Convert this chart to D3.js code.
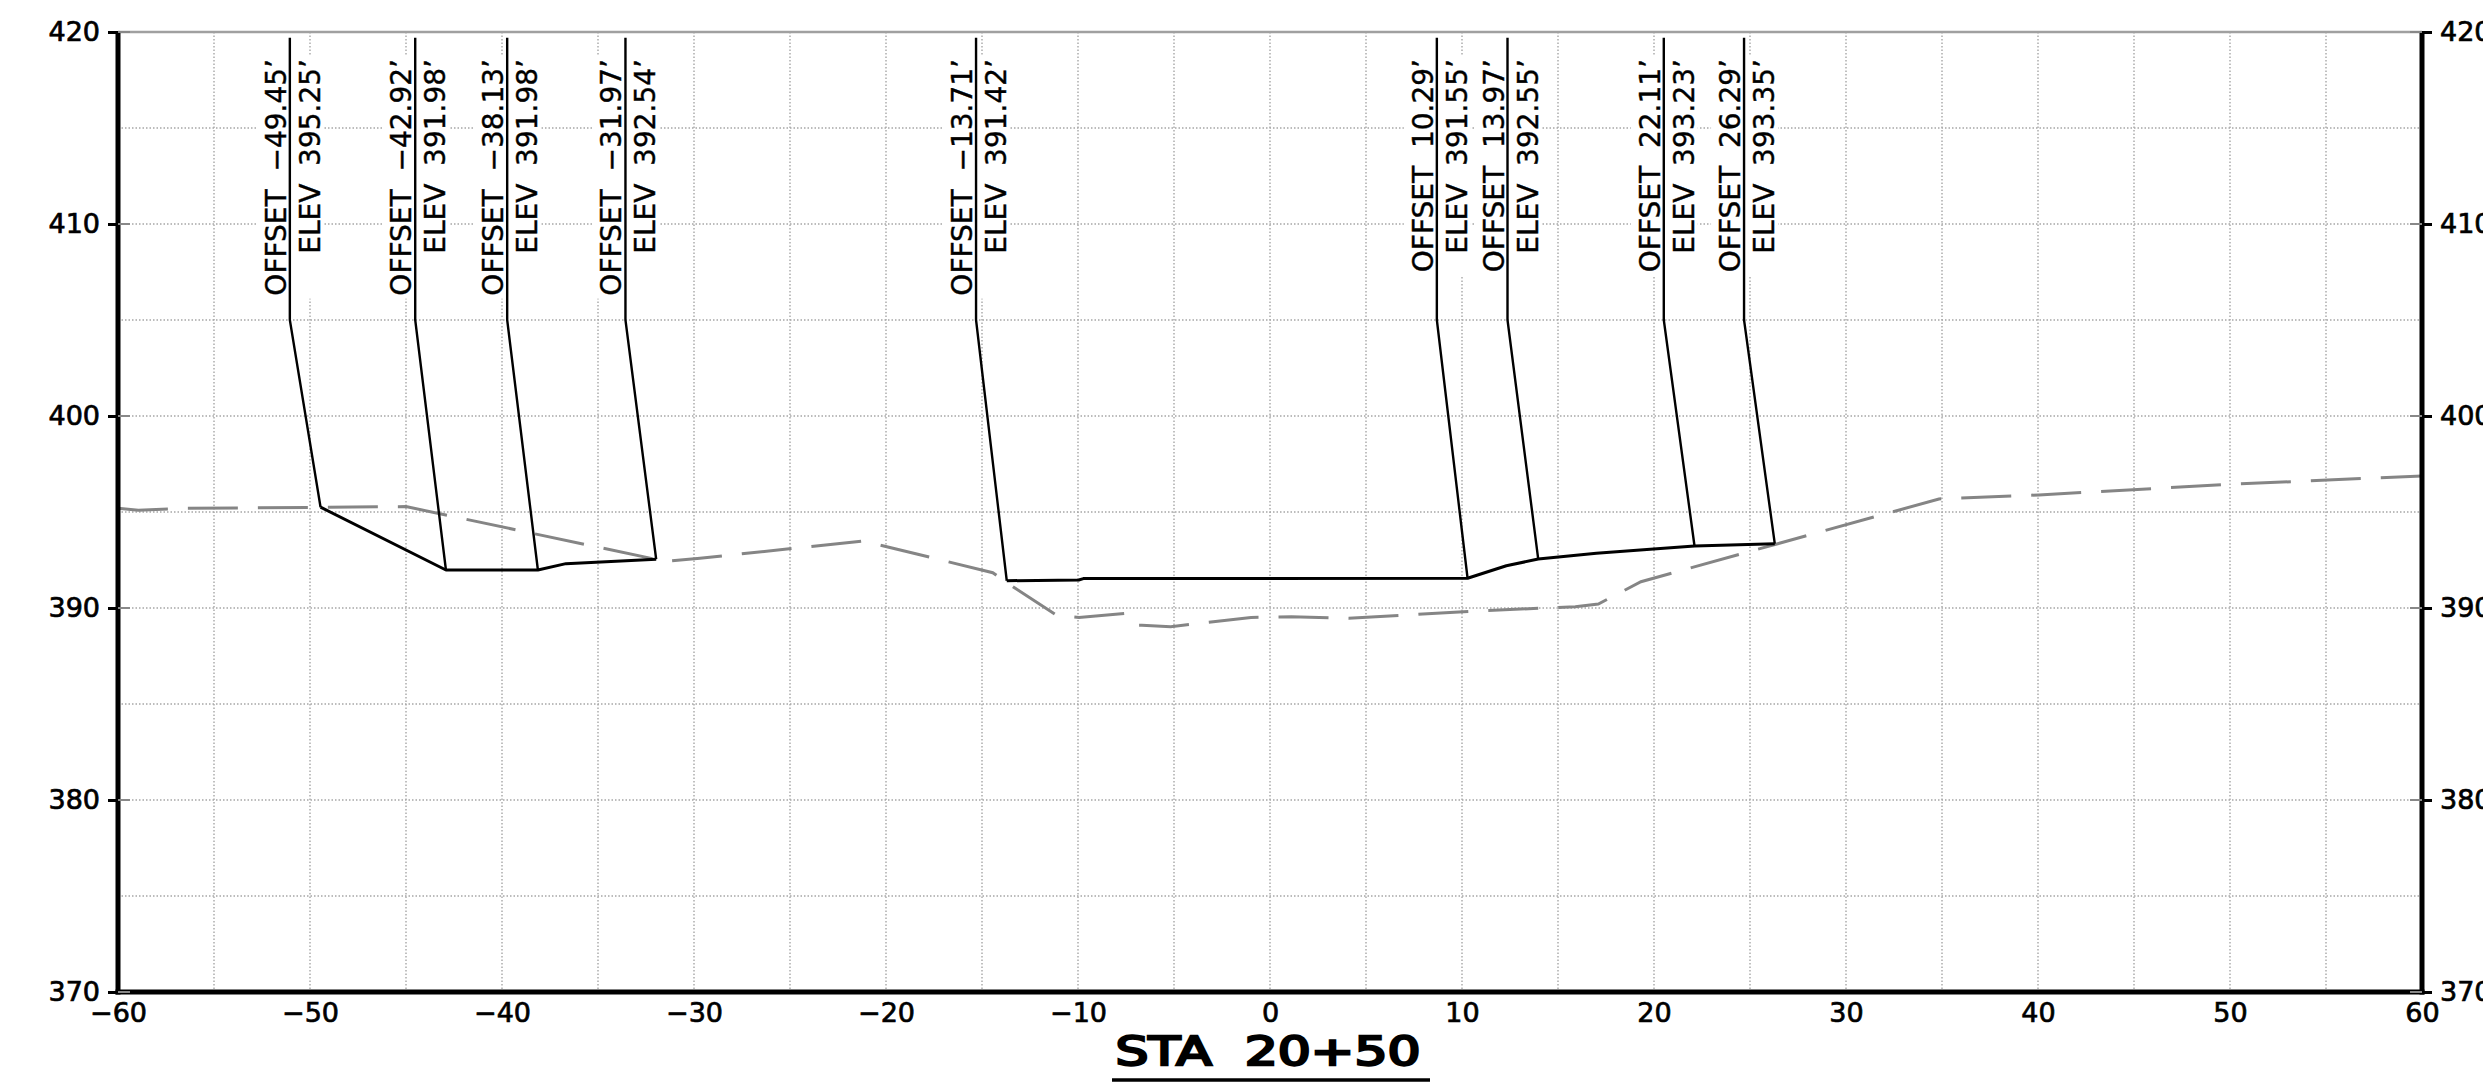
<!DOCTYPE html>
<html>
<head>
<meta charset="utf-8">
<script src="https://cdn.jsdelivr.net/npm/d3@7"></script>
<style>
  html, body { margin: 0; padding: 0; background: #fff; }
  svg { display: block; font-family: "DejaVu Sans", sans-serif; }
</style>
</head>
<body>
<svg id="chart" width="2483" height="1091"></svg>
<script>
// ---- data ----
const xTicks = [-60, -50, -40, -30, -20, -10, 0, 10, 20, 30, 40, 50, 60];
const yTicks = [370, 380, 390, 400, 410, 420];
const gridX = [-55, -50, -45, -40, -35, -30, -25, -20, -15, -10, -5, 0, 5, 10, 15, 20, 25, 30, 35, 40, 45, 50, 55];
const gridY = [375, 380, 385, 390, 395, 400, 405, 410, 415];

// existing ground (offset, elevation)
const groundOffsets = [-60, -58.94, -56.4, -45, -31.5, -29.69, -21.17, -14.44, -13.39, -11.15, -9.95, -7.57, -6.97, -6.67, -5.17, -0.99, 1.11, 4.10, 10.08, 15.9, 17.1, 19.32, 34.84, 40.05, 50, 60];
const groundElevs   = [395.19, 395.09, 395.19, 395.28, 392.43, 392.59, 393.49, 391.84, 391.11, 389.64, 389.51, 389.72, 389.1, 389.1, 389.03, 389.51, 389.55, 389.46, 389.81, 390.07, 390.21, 391.37, 395.68, 395.89, 396.44, 396.88];

// proposed section, left piece
const leftOffsets = [-49.45, -42.92, -38.13, -36.67, -31.97];
const leftElevs   = [395.25, 391.98, 391.98, 392.31, 392.54];
// proposed section, middle piece
const midOffsets = [-13.71, -9.96, -9.72, 10.29, 12.31, 13.97, 17.0, 19.98, 22.11, 26.29];
const midElevs   = [391.42, 391.46, 391.53, 391.55, 392.2, 392.55, 392.85, 393.07, 393.23, 393.35];

// labelled points
const labelOffsets = [-49.45, -42.92, -38.13, -31.97, -13.71, 10.29, 13.97, 22.11, 26.29];
const labelElevs   = [395.25, 391.98, 391.98, 392.54, 391.42, 391.55, 392.55, 393.23, 393.35];
const leaderShift = -1.6;     // leader column sits left of the point (ft)
const leaderKnee = 405;       // elevation where the leader turns vertical
const leaderTop = 419.7;

const title = "STA  20+50";

// ---- drawing ----
const svg = d3.select("#chart");
svg.append("rect").attr("width", 2483).attr("height", 1091).attr("fill", "#fff");

const x = d3.scaleLinear().domain([-60, 60]).range([118, 2422]);
const y = d3.scaleLinear().domain([370, 420]).range([992, 32]);

const FONT = 27;
const gridColor = "#a6a6a6";

// grid
const grid = svg.append("g");
grid.selectAll("line.v").data(gridX).join("line")
  .attr("x1", d => x(d)).attr("x2", d => x(d))
  .attr("y1", y(420)).attr("y2", y(370))
  .attr("stroke", gridColor).attr("stroke-width", 1.4).attr("stroke-dasharray", "1.5,2");
grid.selectAll("line.h").data(gridY).join("line")
  .attr("x1", x(-60)).attr("x2", x(60))
  .attr("y1", d => y(d)).attr("y2", d => y(d))
  .attr("stroke", gridColor).attr("stroke-width", 1.4).attr("stroke-dasharray", "1.5,2");
// top border line at 420
grid.append("line")
  .attr("x1", x(-60)).attr("x2", x(60)).attr("y1", y(420)).attr("y2", y(420))
  .attr("stroke", "#a0a0a0").attr("stroke-width", 2.5);

// label masks (white boxes behind labels), drawn after grid
const labelData = labelOffsets.map((o, i) => ({ off: o, elev: labelElevs[i] }));
const fmt = v => (v < 0 ? "\u2212" + Math.abs(v).toFixed(2) : v.toFixed(2));
const maskG = svg.append("g");
const textG = svg.append("g");

const END_Y = 59;
labelData.forEach(d => {
  const L = x(d.off + leaderShift);
  const t1 = textG.append("text")
    .attr("transform", `translate(${L - 4},${END_Y}) rotate(-90)`)
    .attr("text-anchor", "end")
    .attr("font-size", 28)
    .style("white-space", "pre")
    .attr("fill", "#000").attr("stroke", "#000").attr("stroke-width", 0.4)
    .text("OFFSET  " + fmt(d.off) + "\u2019");
  const t2 = textG.append("text")
    .attr("transform", `translate(${L + 30},${END_Y}) rotate(-90)`)
    .attr("text-anchor", "end")
    .attr("font-size", 28)
    .style("white-space", "pre")
    .attr("fill", "#000").attr("stroke", "#000").attr("stroke-width", 0.4)
    .text("ELEV  " + d.elev.toFixed(2) + "\u2019");
  const len = Math.max(t1.node().getComputedTextLength(), t2.node().getComputedTextLength());
  maskG.append("rect")
    .attr("x", L - 33).attr("y", END_Y - 3)
    .attr("width", 67).attr("height", len + 6)
    .attr("fill", "#fff");
});

// existing ground
const line = d3.line().x(d => x(d[0])).y(d => y(d[1]));
const groundPts = groundOffsets.map((o, i) => [o, groundElevs[i]]);
svg.append("path").attr("d", line(groundPts))
  .attr("fill", "none").attr("stroke", "#858585").attr("stroke-width", 3)
  .attr("stroke-dasharray", "50,20");

// proposed section
const leftPts = leftOffsets.map((o, i) => [o, leftElevs[i]]);
const midPts = midOffsets.map((o, i) => [o, midElevs[i]]);
[leftPts, midPts].forEach(p => {
  svg.append("path").attr("d", line(p))
    .attr("fill", "none").attr("stroke", "#000").attr("stroke-width", 3)
    .attr("stroke-linejoin", "round");
});

// leaders
labelData.forEach(d => {
  const pts = [[d.off + leaderShift, leaderTop], [d.off + leaderShift, leaderKnee], [d.off, d.elev]];
  svg.append("path").attr("d", line(pts))
    .attr("fill", "none").attr("stroke", "#000").attr("stroke-width", 2.4);
});

// bring text to front
textG.raise();

// axes
const axL = svg.append("g").attr("transform", `translate(${x(-60)},0)`)
  .call(d3.axisLeft(y).tickValues(yTicks).tickSize(10).tickSizeOuter(0).tickPadding(8));
const axR = svg.append("g").attr("transform", `translate(${x(60)},0)`)
  .call(d3.axisRight(y).tickValues(yTicks).tickSize(10).tickSizeOuter(0).tickPadding(8));
const axB = svg.append("g").attr("transform", `translate(0,${y(370)})`)
  .call(d3.axisBottom(x).tickValues(xTicks).tickSize(0).tickSizeOuter(0).tickPadding(11));

[axL, axR, axB].forEach(g => {
  g.select(".domain").attr("stroke", "#000").attr("stroke-width", 5);
  g.selectAll(".tick line").attr("stroke", "#000").attr("stroke-width", 3);
  g.selectAll(".tick text").attr("font-size", FONT)
    .attr("font-family", "DejaVu Sans").attr("fill", "#000")
    .attr("stroke", "#000").attr("stroke-width", 0.7);
});
axB.select(".domain").attr("d", `M${x(-60) - 2.5},0H${x(60) + 2.5}`);
axL.select(".domain").attr("d", `M0,${y(420)}V${y(370) + 2.5}`);
axR.select(".domain").attr("d", `M0,${y(420)}V${y(370) + 2.5}`);

// small inner gray tick stubs
svg.append("g").selectAll("line").data(yTicks).join("line")
  .attr("x1", x(-60)).attr("x2", x(-60) + 12)
  .attr("y1", d => y(d)).attr("y2", d => y(d))
  .attr("stroke", "#888").attr("stroke-width", 2);
svg.append("g").selectAll("line").data(yTicks).join("line")
  .attr("x1", x(60) - 12).attr("x2", x(60))
  .attr("y1", d => y(d)).attr("y2", d => y(d))
  .attr("stroke", "#888").attr("stroke-width", 2);

// title
svg.append("text")
  .attr("x", x(0) - 2).attr("y", 1065)
  .attr("text-anchor", "middle")
  .attr("font-size", 39)
  .attr("textLength", 305).attr("lengthAdjust", "spacingAndGlyphs")
  .style("white-space", "pre")
  .attr("fill", "#000").attr("stroke", "#000").attr("stroke-width", 2.4)
  .text(title);
svg.append("line")
  .attr("x1", x(0) - 158).attr("x2", x(0) + 160)
  .attr("y1", 1080).attr("y2", 1080)
  .attr("stroke", "#000").attr("stroke-width", 3.5);
</script>
</body>
</html>
